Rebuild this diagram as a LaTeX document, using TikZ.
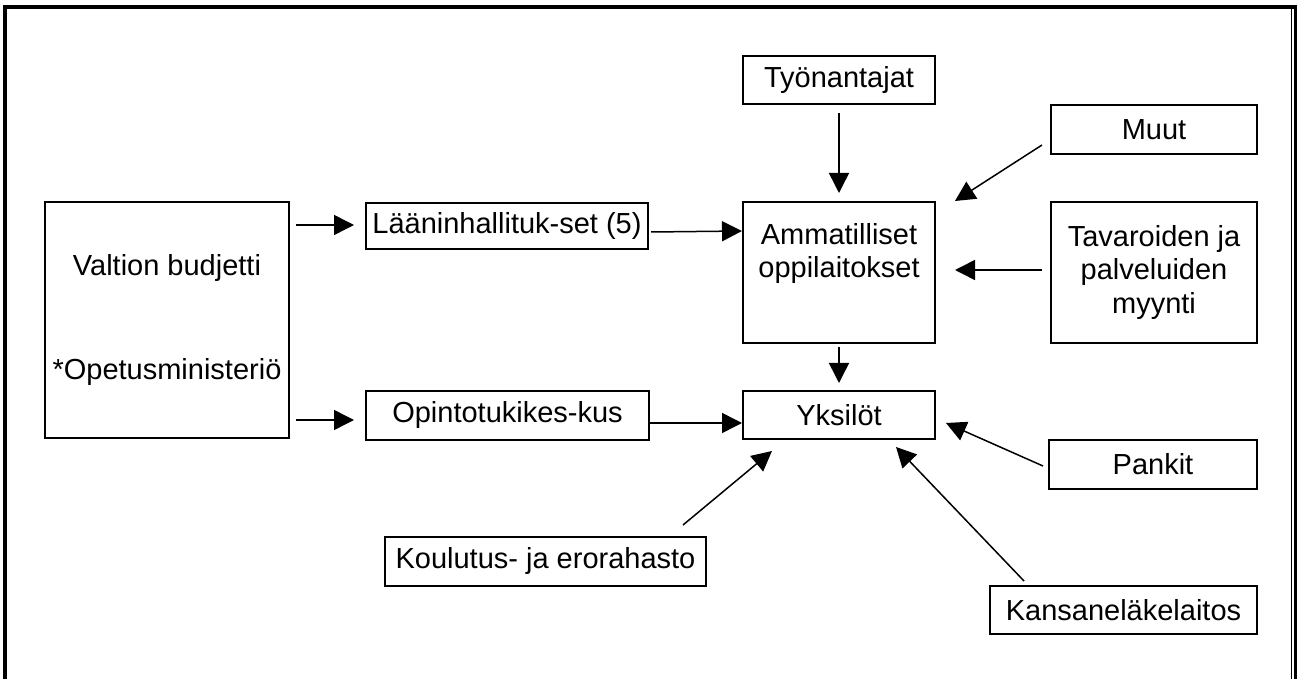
\documentclass[tikz,border=0pt]{standalone}
\usepackage{fontspec}
\setmainfont{Liberation Sans}
\usetikzlibrary{arrows.meta,calc}
\tikzset{
  box/.style={draw=black, line width=1pt, inner sep=0pt, align=center,
    font=\fontsize{14.5}{16.7}\selectfont},
  txt/.style={inner sep=0pt, align=center, font=\fontsize{14.5}{16.7}\selectfont},
  arr/.style={line width=0.75pt, -{Triangle[length=10pt,width=10pt]}},
  frame/.style={line width=2pt}
}
\begin{document}
\begin{tikzpicture}[x=0.5pt,y=-0.5pt]
\useasboundingbox (0,0) rectangle (1297,679);
% frame
\draw[frame] (3,7) -- (1297,7);
\draw[frame] (5,5) -- (5,679);
\draw[line width=0.75pt] (1291.5,7) -- (1291.5,679);
\draw[line width=1.5pt] (1295.5,5) -- (1295.5,679);
% nodes
\node[box, minimum width=122pt, minimum height=118pt] (val) at (167,320)
  {Valtion budjetti\\[35pt]*Opetusministeriö};
\node[box, minimum width=141pt, minimum height=23pt] (laan) at (507,226) {Lääninhallituk-set (5)};
\node[box, minimum width=141.5pt, minimum height=24.5pt] (opin) at (507.5,415.5) {Opintotukikes-kus};
\node[box, minimum width=96pt, minimum height=24pt] (tyon) at (839,80) {Työnantajat};
\node[box, minimum width=96pt, minimum height=70.5pt] (amm) at (839,272.5) {};
\node[txt] (ammt) at (839,253.5) {Ammatilliset\\oppilaitokset};
\node[box, minimum width=96pt, minimum height=24pt] (yks) at (839,415) {Yksilöt};
\node[box, minimum width=103pt, minimum height=24.5pt] (muut) at (1154,129.5) {Muut};
\node[box, minimum width=103pt, minimum height=70.5pt] (tav) at (1154,272.5) {Tavaroiden ja\\palveluiden\\myynti};
\node[box, minimum width=104pt, minimum height=24.5pt] (pank) at (1153,464.5) {Pankit};
\node[box, minimum width=133.5pt, minimum height=24pt] (kans) at (1123.5,610) {Kansaneläkelaitos};
\node[box, minimum width=160.5pt, minimum height=24.5pt] (koul) at (545.5,561.5) {Koulutus- ja erorahasto};
% connectors
\draw[arr] ($(laan.west)+(-69,-1)$) -- ($(laan.west)+(-11,-1)$);
\draw[arr] ($(opin.west)+(-69,4.5)$) -- ($(opin.west)+(-11,4.5)$);
\draw[arr] ($(laan.east)+(2,6)$) -- ($(amm.north west)+(0,30)$);
\draw[arr] ($(opin.east)+(-1,7.5)$) -- ($(yks.west)+(0,8)$);
\draw[arr] ($(tyon.south)+(0,8)$) -- ($(amm.north)+(0,-8)$);
\draw[arr] ($(muut.west)+(-8,15.5)$) -- ($(amm.north east)+(19,0)$);
\draw[arr] ($(tav.west)+(-8,-2.5)$) -- ($(amm.east)+(19,-2.5)$);
\draw[arr] ($(amm.south)+(0,3)$) -- ($(yks.north)+(0,-7)$);
\draw[arr] ($(pank.west)+(-5,1.5)$) -- ($(yks.east)+(10,8)$);
\draw[arr] ($(kans.north west)+(35,-4)$) -- ($(yks.south east)+(-40,7)$);
\draw[arr] ($(koul.north east)+(-24,-11)$) -- ($(yks.south west)+(30,11)$);
\end{tikzpicture}
\end{document}
